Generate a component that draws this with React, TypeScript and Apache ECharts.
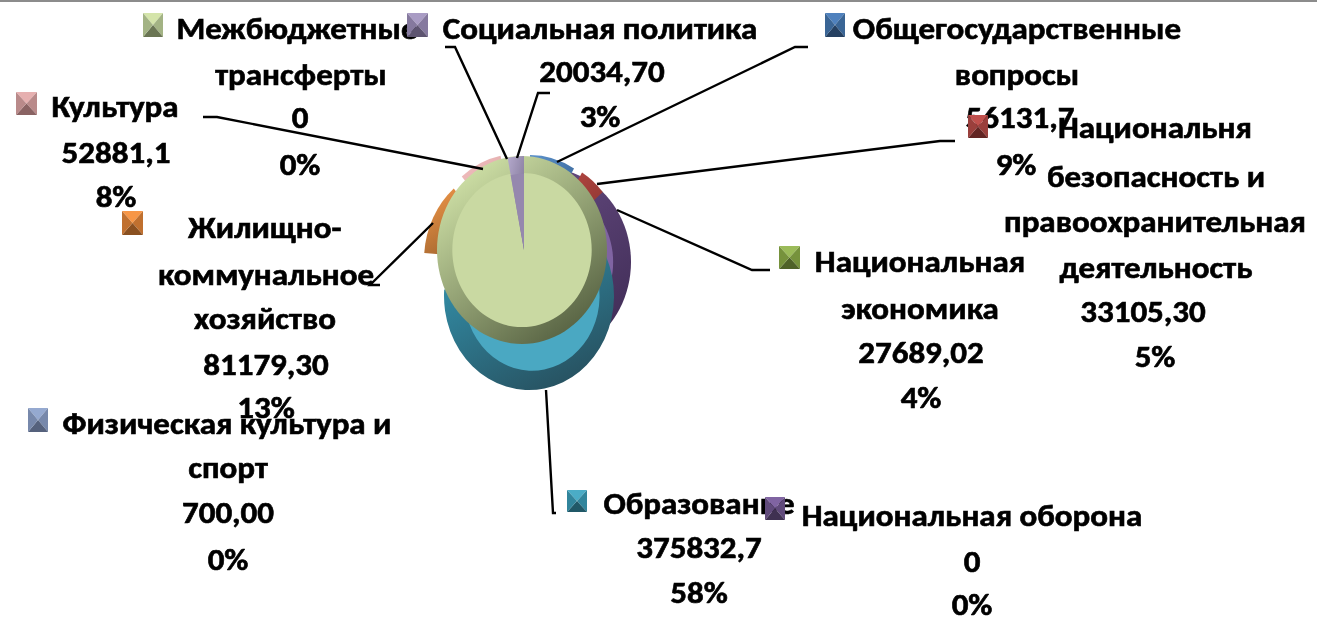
import React, { useEffect, useRef } from "react";
import * as echarts from "echarts";

const CATEGORIES = [
  "Общегосударственные вопросы",
  "Национальня безопасность и правоохранительная деятельность",
  "Национальная экономика",
  "Национальная оборона",
  "Образование",
  "Физическая культура и спорт",
  "Жилищно-коммунальное хозяйство",
  "Культура",
  "Межбюджетные трансферты",
  "Социальная политика",
];
const VALUES = [56131.7, 33105.3, 27689.02, 0, 375832.7, 700, 81179.3, 52881.1, 0, 20034.7];
const VALUE_LABELS = ["56131,7", "33105,30", "27689,02", "0", "375832,7", "700,00", "81179,30", "52881,1", "0", "20034,70"];
const PERCENT_LABELS = ["9%", "5%", "4%", "0%", "58%", "0%", "13%", "8%", "0%", "3%"];
const NAME_LINES = [
  ["Общегосударственные", "вопросы"],
  ["Национальня", "безопасность и", "правоохранительная", "деятельность"],
  ["Национальная", "экономика"],
  ["Национальная оборона"],
  ["Образование"],
  ["Физическая культура и", "спорт"],
  ["Жилищно-", "коммунальное", "хозяйство"],
  ["Культура"],
  ["Межбюджетные", "трансферты"],
  ["Социальная политика"],
];

// Layout and style, separate from the data
const CENTER = [523, 250];
const RX = 85;
const RY = 94;
const INNER = [0.81, 0.81, 0.81, 0.79, 0.795, 0.81, 0.81, 0.81, 0.82, 0.81];
const INNER_SHIFT = [[0, 0], [0, 0], [0, 0], [0, 0], [3, 0], [0, 0], [0, 0], [0, 0], [0, 0], [0, 0]];
const DRAW_ORDER = [2, 3, 4, 5, 0, 1, 6, 7, 8, 9];
const OFFSETS = [[7, -1], [15, 3], [15, 3], [23, 12], [6, 46], [0, 0], [-14, 10], [-6, -2], [-1, 0], [1, 0]];
const RIM = [
  ["#5a8fc8", "#2c5585"], ["#bc4a44", "#7e2f2c"], ["#8fae52", "#5d7534"], ["#6a4e86", "#3f2c55"],
  ["#3390aa", "#264c5a"], ["#8fa3cc", "#5d6c90"], ["#ea9346", "#8a5527"], ["#f0bcbc", "#cf9a9a"],
  ["#d6e8ac", "#4f5a3c"], ["#b0a5c8", "#6f6585"],
];
const FACE = ["#4f81bd", "#c0504d", "#9bbb59", "#8064a2", "#4aa8c2", "#8ea4cc", "#f79646", "#e6b0b0", "#c9d9a2", "#9588ae"];
const TEXT_Y = [
  [29, 75, 118, 165], [128, 177, 222, 268, 312, 357], [262, 309, 353, 398], [516, 562, 605], [504, 548, 593],
  [424, 468, 513, 560], [228, 275, 319, 365, 408], [107, 153, 197], [29, 75, 118, 165], [29, 72, 117],
];
const TEXT_X = [
  [1017, 1017, 1020, 1016], [1155, 1156, 1155, 1156, 1143, 1155], [920, 920, 921, 921], [972, 972, 972], [699, 699, 699],
  [227, 228, 228, 228], [265, 266, 265, 266, 266], [115, 116, 116], [297, 301, 300, 300], [600, 602, 600],
];
const KEY_BOX = [
  [825, 13, 20, 24], [968, 115, 20, 23], [779, 246, 21, 23], [765, 497, 20, 23], [567, 490, 20, 22],
  [28, 408, 20, 24], [122, 211, 21, 24], [16, 92, 21, 23], [143, 13, 20, 24], [407, 13, 21, 24],
];
const KEY_COLORS = [
  ["#4f81bd", "#3a6595", "#254061"], ["#c0504d", "#9a3f3c", "#632523"], ["#9bbb59", "#76923c", "#4f6228"],
  ["#8064a2", "#604a7b", "#3f3151"], ["#4bacc6", "#31859c", "#205867"], ["#95a9d0", "#7788ab", "#55617c"],
  ["#f79646", "#c0702f", "#8a5020"], ["#e6b0b0", "#b98a8a", "#8a6363"], ["#d4e4aa", "#a3b384", "#6a7553"],
  ["#a99cc4", "#85799e", "#5d5470"],
];
const LEADERS = [
  [[808, 47], [795, 47], [557, 162]], [[955, 141], [940, 141], [597, 184]], [[770, 270], [752, 270], [617, 210]],
  [[556, 513], [553, 513], [546, 390]], [[380, 285], [370, 285], [433, 223]], [[203, 117], [217, 117], [483, 169]],
  [[445, 47], [455, 47], [507, 159]], [[550, 93], [538, 93], [517, 158]],
];
const FONT = "Carlito, Lato, sans-serif";
const FONT_SIZE = 30;
const TEXT_SCALE = 1.1;

const TOTAL = VALUES.reduce((a, b) => a + b, 0);

function sliceGroup(i: number) {
  let before = 0;
  for (let k = 0; k < i; k++) before += VALUES[k];
  const full = VALUES[i] === 0;
  const start = full ? 0 : (before / TOTAL) * Math.PI * 2 - Math.PI / 2;
  const end = full ? Math.PI * 2 : ((before + VALUES[i]) / TOTAL) * Math.PI * 2 - Math.PI / 2;
  const x = CENTER[0] + OFFSETS[i][0];
  const y = CENTER[1] + OFFSETS[i][1];
  const sector = (r: number, fill: any, dx = 0, dy = 0) => ({
    type: "sector",
    x: x + dx,
    y: y + dy,
    scaleY: RY / RX,
    shape: { cx: 0, cy: 0, r, r0: 0, startAngle: start, endAngle: end, clockwise: true },
    style: { fill },
  });
  return {
    type: "group",
    children: [
      sector(RX, new echarts.graphic.LinearGradient(0.15, 0, 0.85, 1, [
        { offset: 0, color: RIM[i][0] },
        { offset: 1, color: RIM[i][1] },
      ])),
      sector(RX * INNER[i], FACE[i], INNER_SHIFT[i][0], INNER_SHIFT[i][1]),
    ],
  };
}

function keyElements(i: number) {
  const [x, y, w, h] = KEY_BOX[i];
  const [top, side, bottom] = KEY_COLORS[i];
  const c = [x + w / 2, y + h / 2];
  const tri = (a: number[], b: number[], fill: string) => ({
    type: "polygon",
    shape: { points: [a, b, c] },
    style: { fill },
    z: 20,
  });
  return [
    tri([x, y], [x + w, y], top),
    tri([x + w, y], [x + w, y + h], side),
    tri([x, y + h], [x + w, y + h], bottom),
    tri([x, y], [x, y + h], side),
  ];
}

function textElements(i: number) {
  const lines = [...NAME_LINES[i], VALUE_LABELS[i], PERCENT_LABELS[i]];
  return lines.map((text, k) => ({
    type: "text",
    x: TEXT_X[i][k],
    y: TEXT_Y[i][k],
    scaleX: TEXT_SCALE,
    z: 10,
    style: {
      text,
      fill: "#000",
      stroke: "#000",
      lineWidth: 0.6,
      font: `bold ${FONT_SIZE}px ${FONT}`,
      textAlign: "center",
      textVerticalAlign: "middle",
    },
  }));
}

export default function App() {
  const ref = useRef<HTMLDivElement>(null);
  useEffect(() => {
    const chart = echarts.init(ref.current!, null, { renderer: "svg" });
    const graphics: any[] = [
      { type: "rect", shape: { x: 0, y: 0, width: 1317, height: 2 }, style: { fill: "#8c8c8c" }, z: 5 },
    ];
    LEADERS.forEach((points) =>
      graphics.push({
        type: "polyline",
        shape: { points },
        style: { stroke: "#000", lineWidth: 2.4, fill: "none" },
        z: 8,
      })
    );
    CATEGORIES.forEach((_, i) => graphics.push(...textElements(i)));
    CATEGORIES.forEach((_, i) => graphics.push(...keyElements(i)));
    chart.setOption({
      animation: false,
      backgroundColor: "#fff",
      series: [
        {
          type: "custom",
          coordinateSystem: "none",
          silent: true,
          data: DRAW_ORDER.map((i) => ({ name: CATEGORIES[i], value: [i, VALUES[i]] })),
          renderItem: (_p: any, api: any) => sliceGroup(api.value(0)),
        },
      ],
      graphic: { elements: graphics },
    });
    return () => chart.dispose();
  }, []);
  return (
    <div
      ref={ref}
      style={{ position: "fixed", left: 0, top: 0, width: 1317, height: 628, filter: "blur(0.6px)" }}
    />
  );
}
